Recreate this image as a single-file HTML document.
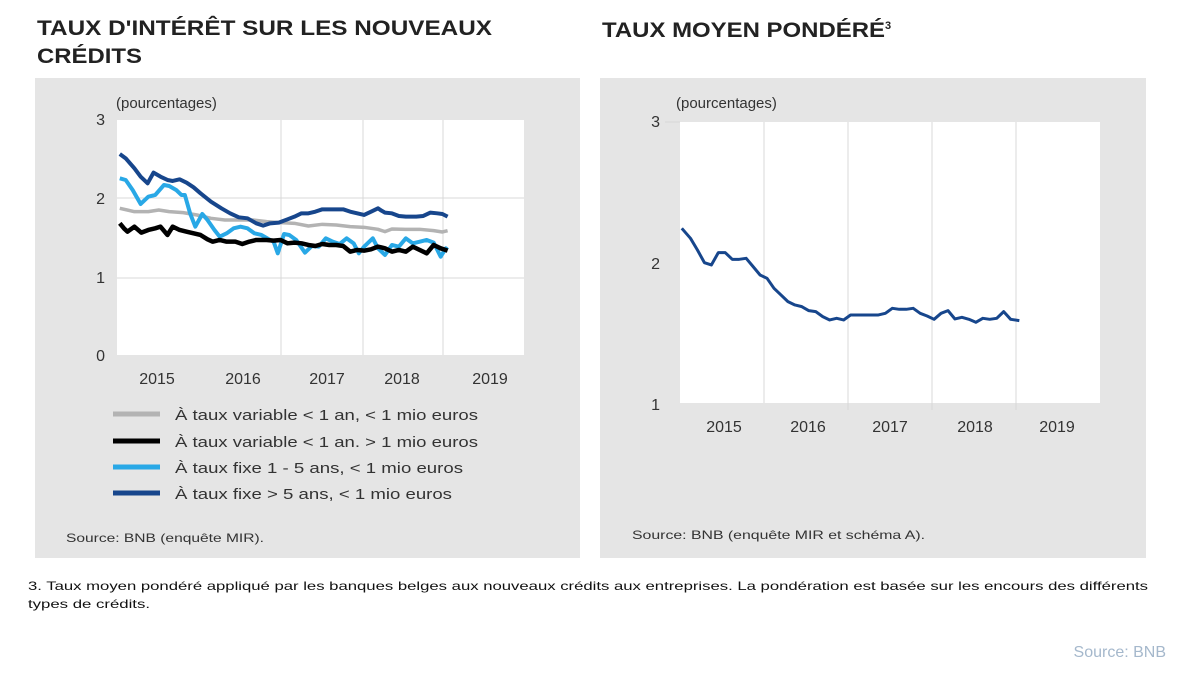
<!DOCTYPE html>
<html><head><meta charset="utf-8"><style>
body{margin:0;background:#fff;width:1189px;height:676px;overflow:hidden;font-family:"Liberation Sans",sans-serif;}
</style></head><body>
<svg width="1189" height="676" xmlns="http://www.w3.org/2000/svg" font-family="Liberation Sans, sans-serif">
<rect width="1189" height="676" fill="#fff"/>
<text x="37" y="35" font-size="21" font-weight="bold" fill="#222" textLength="455" lengthAdjust="spacingAndGlyphs">TAUX D'INTÉRÊT SUR LES NOUVEAUX</text>
<text x="37" y="63" font-size="21" font-weight="bold" fill="#222" textLength="105" lengthAdjust="spacingAndGlyphs">CRÉDITS</text>
<text x="602" y="37" font-size="21" font-weight="bold" fill="#222"><tspan textLength="283" lengthAdjust="spacingAndGlyphs">TAUX MOYEN PONDÉRÉ</tspan><tspan font-size="11" dy="-8">3</tspan></text>
<rect x="35" y="78" width="545" height="480" fill="#e5e5e5"/>
<rect x="600" y="78" width="546" height="480" fill="#e5e5e5"/>
<rect x="117" y="120" width="407" height="235" fill="#fff"/>
<g stroke="#d8d8d8" stroke-width="1">
<line x1="117" y1="198" x2="524" y2="198"/><line x1="117" y1="278" x2="524" y2="278"/>
<line x1="281" y1="120" x2="281" y2="355"/><line x1="363" y1="120" x2="363" y2="355"/><line x1="443" y1="120" x2="443" y2="355"/>
</g>
<g font-size="16" fill="#333" text-anchor="end">
<text x="105" y="125">3</text><text x="105" y="204">2</text><text x="105" y="283">1</text><text x="105" y="361">0</text></g>
<text x="116" y="108" font-size="15" fill="#333">(pourcentages)</text>
<g font-size="16" fill="#333" text-anchor="middle">
<text x="157" y="384">2015</text><text x="243" y="384">2016</text><text x="327" y="384">2017</text><text x="402" y="384">2018</text><text x="490" y="384">2019</text></g>
<g transform="translate(30,80) scale(0.348,0.3333)" fill="none" stroke-linejoin="round">
<polyline vector-effect="non-scaling-stroke" stroke="#b3b3b3" stroke-width="3.5" points="258,385 300,395 340,395 370,390 400,395 440,398 480,405 520,415 560,420 600,420 640,420 680,425 720,428 760,430 800,438 840,433 880,435 920,440 960,442 1000,448 1020,455 1040,447 1080,448 1120,448 1160,452 1185,456 1200,452"/>
<polyline vector-effect="non-scaling-stroke" stroke="#29a8e6" stroke-width="4" points="258,295 275,300 295,330 318,372 340,350 360,345 385,315 400,318 420,330 435,345 445,345 460,400 475,440 495,402 510,420 530,450 545,470 565,460 585,445 605,440 625,445 645,460 665,465 690,480 700,485 712,520 730,462 745,465 765,480 790,518 810,498 830,500 850,475 870,485 890,492 910,475 930,490 945,520 960,500 985,475 1000,505 1020,525 1040,495 1060,500 1080,475 1100,490 1120,485 1140,480 1160,488 1180,530 1195,505 1200,510"/>
<polyline vector-effect="non-scaling-stroke" stroke="#000" stroke-width="4.5" points="258,430 270,445 280,455 300,440 320,458 340,450 360,445 375,440 395,465 410,440 430,450 450,455 470,460 490,465 510,478 525,485 545,480 565,485 590,485 610,492 630,485 650,480 680,480 700,482 720,480 740,490 760,488 780,490 800,495 820,498 840,492 860,495 880,495 900,498 920,515 940,510 960,512 980,508 1000,500 1020,505 1040,515 1060,510 1080,515 1100,500 1120,510 1140,520 1160,495 1180,505 1200,512"/>
<polyline vector-effect="non-scaling-stroke" stroke="#17468c" stroke-width="4" points="258,222 275,235 300,265 318,290 338,310 355,278 375,290 395,300 410,303 430,298 450,308 470,322 490,340 520,365 550,385 575,400 600,412 625,415 650,430 670,437 690,430 715,428 740,418 760,410 780,400 800,400 820,395 840,388 880,388 900,388 920,395 940,400 960,405 980,395 1000,385 1010,392 1020,398 1040,400 1060,408 1080,410 1110,410 1130,408 1150,398 1170,400 1185,402 1200,410"/>
</g>
<g stroke-width="5">
<line x1="113" y1="414" x2="160" y2="414" stroke="#b3b3b3"/>
<line x1="113" y1="441" x2="160" y2="441" stroke="#000"/>
<line x1="113" y1="467" x2="160" y2="467" stroke="#29a8e6"/>
<line x1="113" y1="493" x2="160" y2="493" stroke="#17468c"/>
</g>
<g font-size="15" fill="#333">
<text x="175" y="420" textLength="303" lengthAdjust="spacingAndGlyphs">À taux variable &lt; 1 an, &lt; 1 mio euros</text>
<text x="175" y="447" textLength="303" lengthAdjust="spacingAndGlyphs">À taux variable &lt; 1 an. &gt; 1 mio euros</text>
<text x="175" y="473" textLength="288" lengthAdjust="spacingAndGlyphs">À taux fixe 1 - 5 ans, &lt; 1 mio euros</text>
<text x="175" y="499" textLength="277" lengthAdjust="spacingAndGlyphs">À taux fixe &gt; 5 ans, &lt; 1 mio euros</text>
</g>
<text x="66" y="542" font-size="12" fill="#333" textLength="198" lengthAdjust="spacingAndGlyphs">Source: BNB (enquête MIR).</text>
<rect x="680" y="122" width="420" height="281" fill="#fff"/>
<g stroke="#d8d8d8" stroke-width="1">
<line x1="764" y1="122" x2="764" y2="403"/><line x1="848" y1="122" x2="848" y2="410"/><line x1="932" y1="122" x2="932" y2="410"/><line x1="1016" y1="122" x2="1016" y2="410"/>
<line x1="665" y1="122" x2="680" y2="122"/>
</g>
<g font-size="16" fill="#333" text-anchor="end">
<text x="660" y="127">3</text><text x="660" y="269">2</text><text x="660" y="410">1</text></g>
<text x="676" y="108" font-size="15" fill="#333">(pourcentages)</text>
<g font-size="16" fill="#333" text-anchor="middle">
<text x="724" y="432">2015</text><text x="808" y="432">2016</text><text x="890" y="432">2017</text><text x="975" y="432">2018</text><text x="1057" y="432">2019</text></g>
<g transform="translate(600,80) scale(0.348,0.3333)" fill="none" stroke-linejoin="round">
<polyline vector-effect="non-scaling-stroke" stroke="#17468c" stroke-width="3" points="235,445 260,475 280,510 300,548 320,555 340,518 360,518 380,538 400,538 420,535 440,560 460,585 480,595 500,625 520,645 540,665 560,675 580,680 600,692 620,695 640,710 660,720 680,715 700,720 720,705 740,705 800,705 820,700 840,685 860,688 880,688 900,685 920,700 940,708 960,718 980,700 1000,692 1020,717 1040,712 1060,718 1080,727 1100,715 1120,718 1140,715 1160,695 1180,718 1205,722"/>
</g>
<text x="632" y="539" font-size="12" fill="#333" textLength="293" lengthAdjust="spacingAndGlyphs">Source: BNB (enquête MIR et schéma A).</text>
<text x="28" y="590" font-size="12" fill="#111" textLength="1120" lengthAdjust="spacingAndGlyphs">3. Taux moyen pondéré appliqué par les banques belges aux nouveaux crédits aux entreprises. La pondération est basée sur les encours des différents</text>
<text x="28" y="608" font-size="12" fill="#111" textLength="122" lengthAdjust="spacingAndGlyphs">types de crédits.</text>
<text x="1166" y="657" font-size="16" fill="#a5b8cc" text-anchor="end">Source: BNB</text>
</svg>
</body></html>
